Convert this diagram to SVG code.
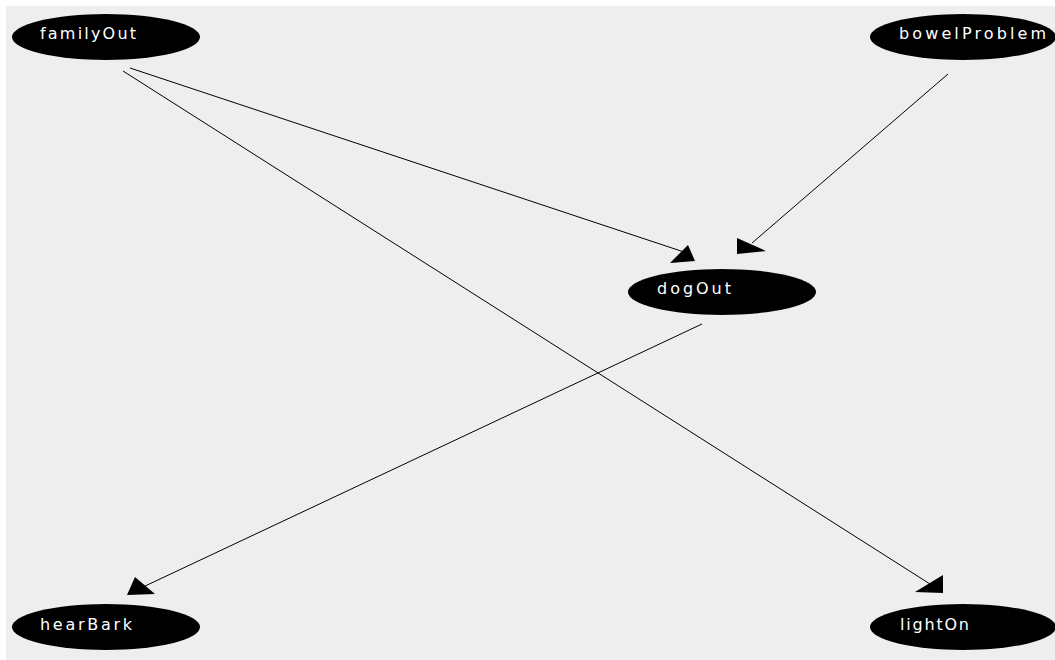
<svg xmlns="http://www.w3.org/2000/svg" width="1055" height="660" viewBox="0 0 1055 660">
<style>
.node ellipse{fill:#000}
.node text{fill:#fff;font-family:"DejaVu Sans",Verdana,sans-serif;font-size:16px}
.edge line{stroke:#000;stroke-width:1}
.edge polygon{fill:#000}
</style>
<rect x="0" y="0" width="1055" height="660" fill="#fff"/>
<rect x="6" y="6" width="1049" height="654" fill="#eeeeee"/>
<g id="connectors" class="edge">
<line x1="130" y1="68" x2="684" y2="252"/>
<polygon points="670,263 695,261 688,245"/>
<line x1="123" y1="71" x2="930" y2="584"/>
<polygon points="943,575 915,592 943,593"/>
<line x1="948" y1="74" x2="752" y2="243"/>
<polygon points="737,238 737,254 766,251"/>
<line x1="702" y1="324" x2="143" y2="587"/>
<polygon points="135,577 127,595 155,594"/>
</g>
<g id="familyOut" class="node"><ellipse cx="106" cy="37" rx="94" ry="23"/><text x="40" y="39" textLength="96" lengthAdjust="spacing">familyOut</text></g>
<g id="bowelProblem" class="node"><ellipse cx="963" cy="37" rx="93" ry="23"/><text x="899" y="39" textLength="147" lengthAdjust="spacing">bowelProblem</text></g>
<g id="dogOut" class="node"><ellipse cx="722" cy="292" rx="94" ry="23"/><text x="657" y="294" textLength="74" lengthAdjust="spacing">dogOut</text></g>
<g id="hearBark" class="node"><ellipse cx="106" cy="627" rx="94" ry="23"/><text x="40" y="630" textLength="92" lengthAdjust="spacing">hearBark</text></g>
<g id="lightOn" class="node"><ellipse cx="963" cy="627" rx="93" ry="23"/><text x="900" y="630" textLength="69" lengthAdjust="spacing">lightOn</text></g>
</svg>
